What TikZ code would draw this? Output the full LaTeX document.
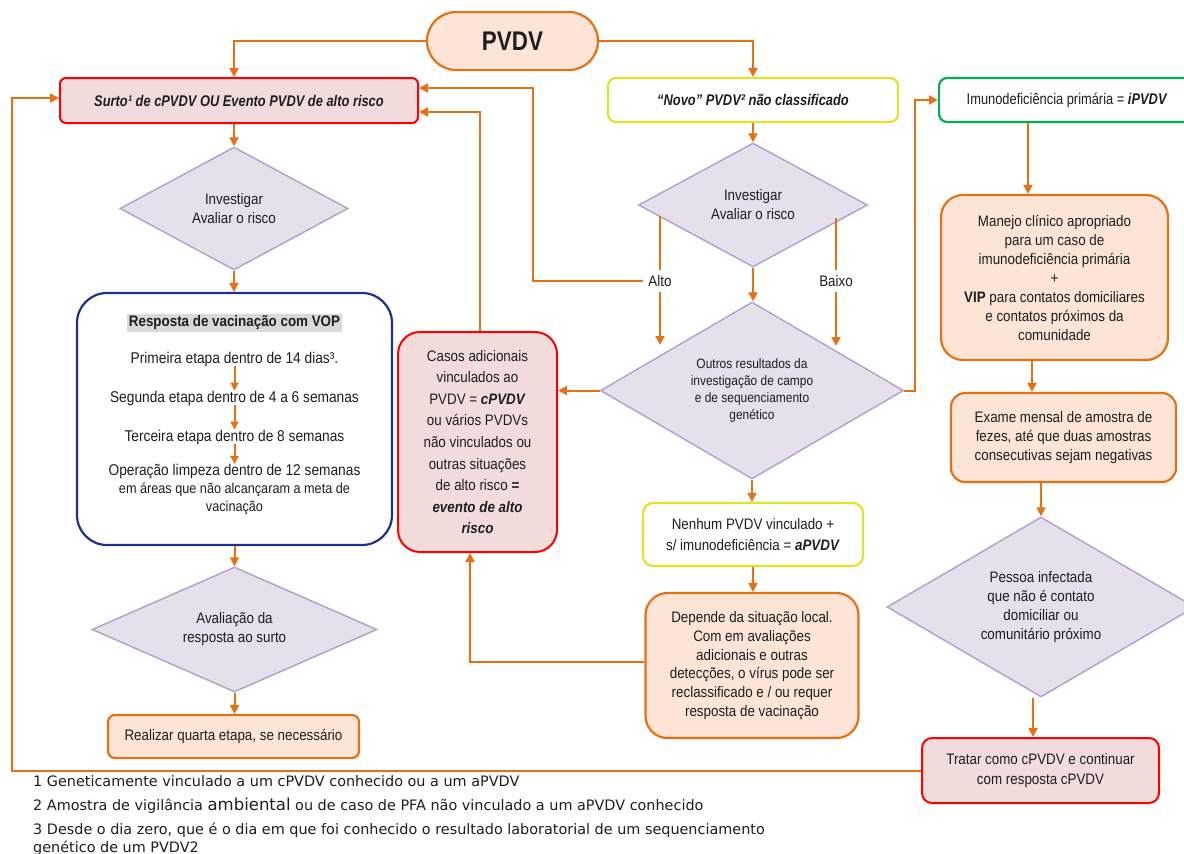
\documentclass[tikz,border=0pt]{standalone}
\usepackage{fontspec}
\setmainfont{Liberation Sans}[FakeStretch=0.88]
\newfontfamily\condfont[FakeStretch=0.83]{Liberation Sans}
\newfontfamily\notefont{DejaVu Sans}
\usetikzlibrary{shapes.geometric,arrows.meta}

\definecolor{flow}{RGB}{230,112,20}
\definecolor{peach}{RGB}{252,229,214}
\definecolor{rose}{RGB}{242,220,219}
\definecolor{alarm}{RGB}{255,0,0}
\definecolor{lilac}{RGB}{229,224,236}
\definecolor{lilacline}{RGB}{180,164,200}
\definecolor{navy}{RGB}{32,48,140}
\definecolor{lime}{RGB}{226,226,40}
\definecolor{leaf}{RGB}{0,176,80}
\definecolor{ink}{RGB}{30,30,30}
\definecolor{mark}{RGB}{217,217,217}

\tikzset{
  base/.style={align=center, text=ink, inner sep=0pt, font=\fontsize{15.2}{19}\selectfont},
  peachbox/.style={base, draw=flow, fill=peach, line width=2.2pt},
  rosebox/.style={base, draw=alarm, fill=rose, line width=2pt},
  plainbox/.style={base, fill=white, line width=2.2pt},
  decision/.style={base, diamond, draw=lilacline, fill=lilac, line width=1.5pt},
  link/.style={draw=flow, line width=2pt},
  arr/.style={link, -{Triangle[length=9pt,width=9pt]}},
  note/.style={anchor=base west, inner sep=0pt, text=ink, font=\notefont\fontsize{14.4}{17}\selectfont},
  tag/.style={base, inner sep=5pt}
}

\begin{document}
\begin{tikzpicture}[x=1pt,y=-1pt]
\fill[white] (0,0) rectangle (1184,854);
\clip (0,0) rectangle (1184,854);

% top row
\node[peachbox, rounded corners=29pt, minimum width=171pt, minimum height=58pt] (pvdv) at (512.5,41)
  {\condfont\bfseries\fontsize{27}{30}\selectfont PVDV};
\node[rosebox, rounded corners=6pt, minimum width=358pt, minimum height=45pt] (surto) at (239,100.5)
  {\condfont\bfseries\itshape\fontsize{15.5}{18}\selectfont Surto¹ de cPVDV OU Evento PVDV de alto risco};
\node[plainbox, draw=lime, rounded corners=8pt, minimum width=290pt, minimum height=44pt] (novo) at (753,100)
  {\condfont\bfseries\itshape\fontsize{15.5}{18}\selectfont “Novo” PVDV² não classificado};
\node[plainbox, draw=leaf, rounded corners=8pt, minimum width=256pt, minimum height=44pt, anchor=west] (ipvdv) at (938,100)
  {\condfont\fontsize{15.5}{18}\selectfont Imunodeficiência primária = \textbf{\textit{iPVDV}}};

% left column
\node[decision, minimum width=228pt, minimum height=123pt, shape aspect=1.85] (inv1) at (234,208.5)
  {Investigar\\Avaliar o risco};
\node[plainbox, draw=navy, rounded corners=30pt, minimum width=315pt, minimum height=252pt] (vop) at (234.5,419) {};
\node[base, fill=mark, inner sep=1.5pt, font=\bfseries\fontsize{15.2}{19}\selectfont] (voptitle) at (234.5,323)
  {Resposta de vacinação com VOP};
\node[base, font=\fontsize{15.6}{19}\selectfont] (stage1) at (234.5,359) {Primeira etapa dentro de 14 dias³.};
\node[base, font=\fontsize{15.6}{19}\selectfont] (stage2) at (234.5,398) {Segunda etapa dentro de 4 a 6 semanas};
\node[base, font=\fontsize{15.6}{19}\selectfont] (stage3) at (234.5,437) {Terceira etapa dentro de 8 semanas};
\node[base, anchor=north, font=\fontsize{15.6}{18}\selectfont] (stage4) at (234.5,464)
  {Operação limpeza dentro de 12 semanas\\
   {\fontsize{14.4}{18}\selectfont em áreas que não alcançaram a meta de}\\
   {\fontsize{14.4}{18}\selectfont vacinação}};
\node[decision, minimum width=285pt, minimum height=125pt, shape aspect=2.28] (aval) at (234.5,629.5)
  {Avaliação da\\resposta ao surto};
\node[peachbox, rounded corners=7pt, minimum width=251pt, minimum height=43pt] (quarta) at (233.5,736.5)
  {Realizar quarta etapa, se necessário};

% middle
\node[rosebox, rounded corners=22pt, minimum width=159pt, minimum height=220pt, font=\fontsize{15.2}{21.6}\selectfont] (casos) at (477.5,442)
  {Casos adicionais\\vinculados ao\\PVDV = \textbf{\textit{cPVDV}}\\ou vários PVDVs\\não vinculados ou\\outras situações\\de alto risco \textbf{=}\\\textbf{\textit{evento de alto}}\\\textbf{\textit{risco}}};
\node[decision, minimum width=229pt, minimum height=124pt, shape aspect=1.85] (inv2) at (753,205)
  {Investigar\\Avaliar o risco};
\node[decision, minimum width=303pt, minimum height=177pt, shape aspect=1.71, font=\fontsize{13.6}{16.7}\selectfont] (outros) at (752,390.5)
  {Outros resultados da\\investigação de campo\\e de sequenciamento\\genético};
\node[plainbox, draw=lime, rounded corners=10pt, minimum width=220pt, minimum height=63pt, font=\fontsize{15.2}{21.7}\selectfont] (nenhum) at (753,534.5)
  {Nenhum PVDV vinculado +\\s/ imunodeficiência = \textbf{\textit{aPVDV}}};
\node[peachbox, rounded corners=22pt, minimum width=213pt, minimum height=145pt, font=\fontsize{15.2}{18.8}\selectfont] (depende) at (752,665.5)
  {Depende da situação local.\\Com em avaliações\\adicionais e outras\\detecções, o vírus pode ser\\reclassificado e / ou requer\\resposta de vacinação};
\node[tag] (alto) at (660,281) {Alto};
\node[tag] (baixo) at (836,281) {Baixo};

% right column
\node[peachbox, rounded corners=22pt, minimum width=227pt, minimum height=165pt] (manejo) at (1054.5,277.5)
  {Manejo clínico apropriado\\para um caso de\\imunodeficiência primária\\+\\\textbf{VIP} para contatos domiciliares\\e contatos próximos da\\comunidade};
\node[peachbox, rounded corners=14pt, minimum width=225pt, minimum height=89pt] (exame) at (1063.5,437.5)
  {Exame mensal de amostra de\\fezes, até que duas amostras\\consecutivas sejam negativas};
\node[decision, minimum width=308pt, minimum height=180pt, shape aspect=1.71] (pessoa) at (1041,607)
  {Pessoa infectada\\que não é contato\\domiciliar ou\\comunitário próximo};
\node[rosebox, rounded corners=10pt, minimum width=237pt, minimum height=65pt, font=\fontsize{15.2}{20}\selectfont] (tratar) at (1040.5,770.5)
  {Tratar como cPVDV e continuar\\com resposta cPVDV};

% footnotes
\node[note] (fn1) at (33,786) {1 Geneticamente vinculado a um cPVDV conhecido ou a um aPVDV};
\node[note] (fn2) at (33,810) {2 Amostra de vigilância {\fontsize{16.5}{17}\selectfont ambiental} ou de caso de PFA não vinculado a um aPVDV conhecido};
\node[note] (fn3) at (33,834) {3 Desde o dia zero, que é o dia em que foi conhecido o resultado laboratorial de um sequenciamento};
\node[note] (fn4) at (33,852) {genético de um PVDV2};

% turning points of the routed connectors
\coordinate (backhigh) at (533,88);
\coordinate (backlow) at (480,112);
\coordinate (altotop) at (660,216);
\coordinate (altoend) at (660,345);
\coordinate (baixotop) at (836,218);
\coordinate (baixoend) at (836,346);
\coordinate (iturn) at (915,100);
\coordinate (dturn) at (470,662);
\coordinate (icol) at (1028,0);
\coordinate (mcol) at (1032,0);
\coordinate (ecol) at (1041,0);
\coordinate (pcol) at (1033,0);
\coordinate (loop) at (12,98);

% connectors
\draw[arr] (pvdv.west) -| (inv1.north |- surto.north);
\draw[arr] (pvdv.east) -| (novo.north);
\draw[arr] (inv1.north |- surto.south) -- (inv1.north);
\draw[arr] (inv1.south) -- (vop.north -| inv1.south);
\draw[arr, -{Triangle[length=8pt,width=8pt]}] (stage1.south) -- (stage2.north);
\draw[arr, -{Triangle[length=8pt,width=8pt]}] (stage2.south) -- (stage3.north);
\draw[arr, -{Triangle[length=8pt,width=8pt]}] (stage3.south) -- (stage4.north);
\draw[arr] (vop.south) -- (aval.north);
\draw[arr] (aval.south) -- (quarta.north -| aval.south);

\draw[arr] (inv2.north |- novo.south) -- (inv2.north);
\draw[arr] (inv2.south) -- (inv2.south |- outros.north);
\draw[link] (altotop) -- (alto.north);
\draw[arr] (alto.south) -- (altoend);
\draw[arr] (alto.west) -| (backhigh) -- (backhigh -| surto.east);
\draw[link] (baixotop) -- (baixo.north);
\draw[arr] (baixo.south) -- (baixoend);
\draw[arr] (outros.west) -- (casos.east |- outros.west);
\draw[arr] (casos.north -| backlow) -- (backlow) -- (backlow -| surto.east);
\draw[arr] (outros.east) -| (iturn) -- (ipvdv.west);
\draw[arr] (outros.south) -- (nenhum.north -| outros.south);
\draw[arr] (nenhum.south) -- (depende.north -| nenhum.south);
\draw[arr] (depende.west |- dturn) -- (dturn) -- (dturn |- casos.south);

\draw[arr] (ipvdv.south -| icol) -- (manejo.north -| icol);
\draw[arr] (manejo.south -| mcol) -- (exame.north -| mcol);
\draw[arr] (exame.south -| ecol) -- (pessoa.north -| ecol);
\draw[arr] (pessoa.south -| pcol) -- (tratar.north -| pcol);
\draw[arr] (tratar.west) -| (loop) -- (loop -| surto.west);
\end{tikzpicture}
\end{document}
